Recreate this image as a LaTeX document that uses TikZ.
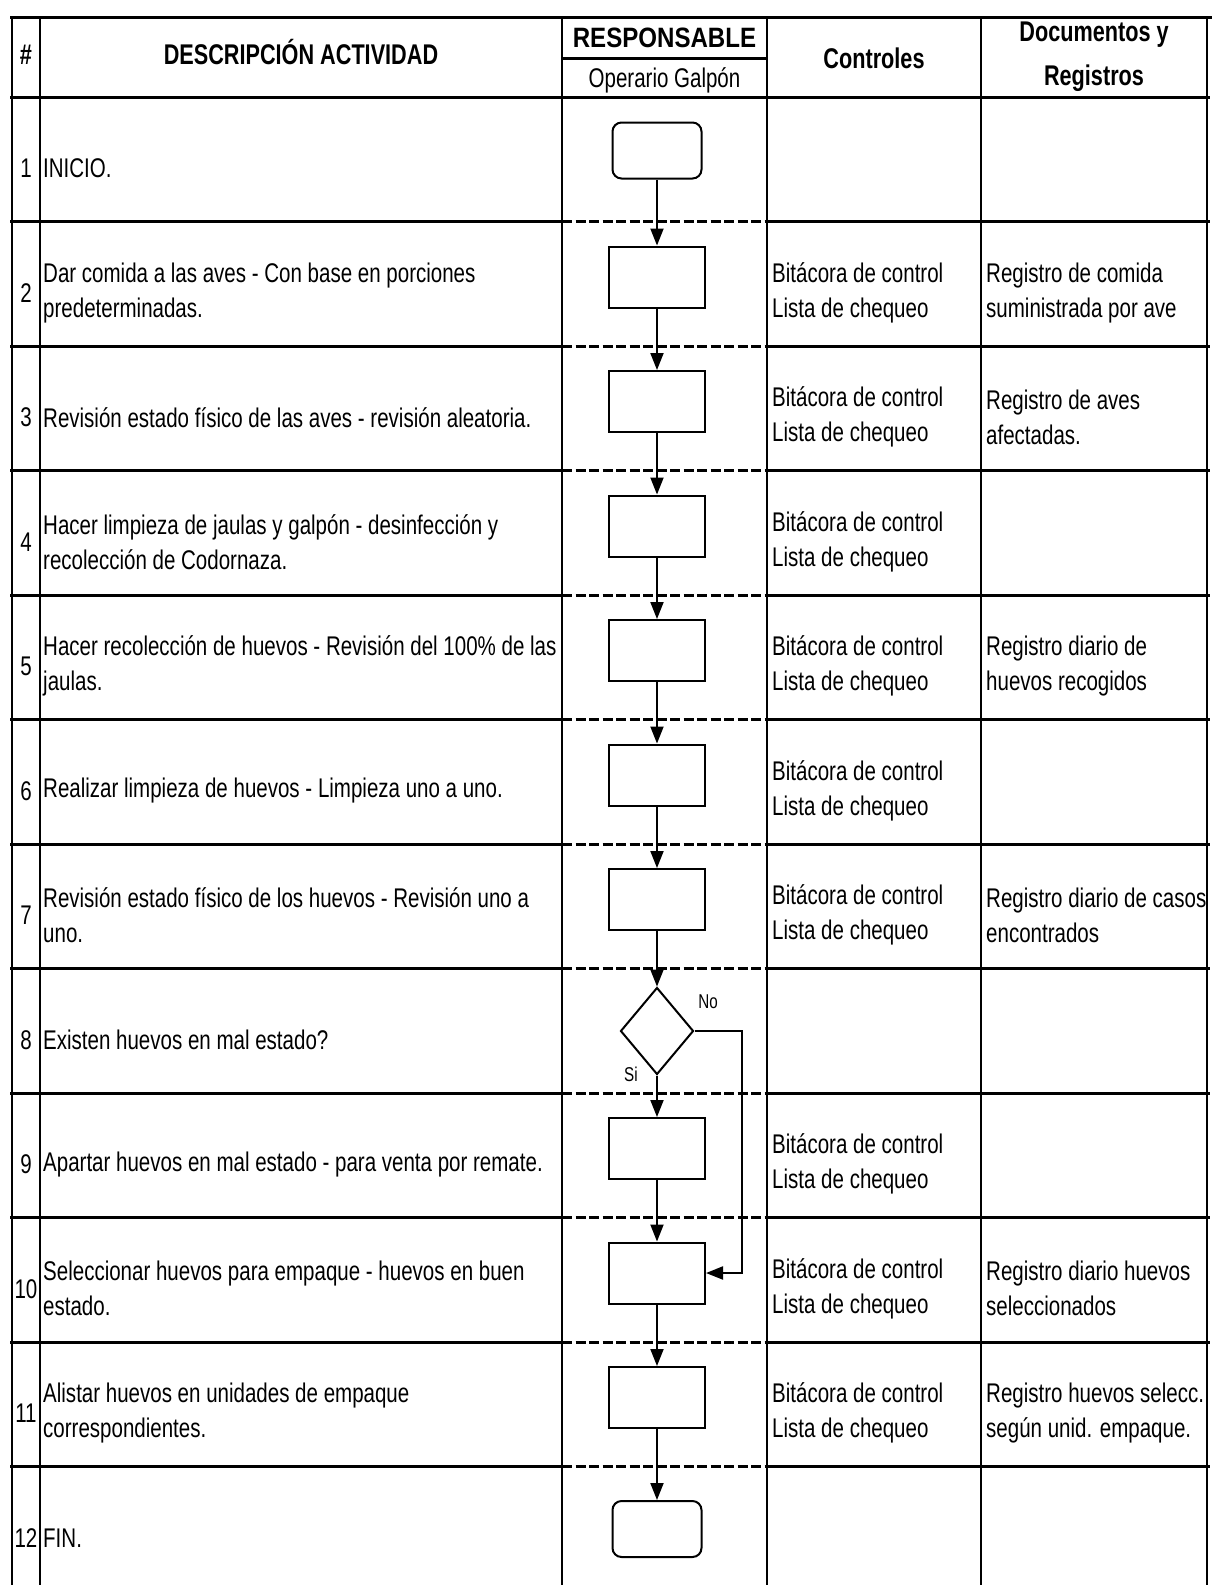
\documentclass[tikz,border=0pt]{standalone}
\usepackage{fontspec}
\setmainfont{Liberation Sans}[FakeStretch=0.76]
\newfontfamily\widebold{Liberation Sans}[FakeStretch=0.86]
\usetikzlibrary{arrows.meta,shapes.geometric}
\begin{document}
\begin{tikzpicture}[x=1pt,y=-1pt,
  hline/.style={line width=3pt},
  vline/.style={line width=2.6pt},
  dline/.style={line width=3pt, dash pattern=on 10pt off 3.5pt},
  proc/.style={draw, line width=2pt, minimum width=96pt, minimum height=61pt, inner sep=0pt},
  term/.style={draw, rounded corners=9pt, line width=2pt, minimum width=89pt, minimum height=56pt, inner sep=0pt},
  dec/.style={draw, diamond, line width=2pt, minimum width=73pt, minimum height=87pt, inner sep=0pt},
  flow/.style={line width=2pt, -{Triangle[length=17pt,width=13pt]}},
  txt/.style={font=\fontsize{27}{35}\selectfont, inner sep=0pt, anchor=west, align=left},
  num/.style={font=\fontsize{27}{35}\selectfont, inner sep=0pt},
  head/.style={font=\fontsize{28.5}{37}\selectfont\bfseries, inner sep=0pt, align=center},
  lbl/.style={font=\fontsize{20}{24}\selectfont, inner sep=0pt}]
\useasboundingbox (0,0) rectangle (1214,1585);
\fill[white] (0,0) rectangle (1214,1585);
% vertical lines
\foreach \x in {12,40,562,767,981,1207} \draw[vline] (\x,17) -- (\x,1585);
% top and header lines
\draw[hline] (10,17) -- (1212,17);
\draw[hline] (562,58) -- (767,58);
\draw[hline] (10,97) -- (1210,97);
% row lines
\foreach \y in {221.5,346,470.5,595,719.5,844,968.5,1093,1217.5,1342,1466.5} {
  \draw[hline] (10,\y) -- (562,\y);
  \draw[dline] (562,\y) -- (767,\y);
  \draw[hline] (767,\y) -- (1210,\y);
}
% header texts
\node[head] (hnum) at (26,55) {\#};
\node[head] (hdesc) at (301,52) {DESCRIPCIÓN ACTIVIDAD};
\node[head, font=\fontsize{28}{37}\selectfont\widebold\bfseries] (hresp) at (664.5,38) {RESPONSABLE};
\node[num] (hop) at (664.5,80) {Operario Galpón};
\node[head] (hctl) at (874,58) {Controles};
\node[head, font=\fontsize{28.5}{44}\selectfont\bfseries] (hdoc) at (1094,57) {Documentos y\\Registros};
% row numbers
\foreach \k/\c in {1/159.25,2/283.75,3/408.25,4/532.75,5/657.25,6/781.75,7/906.25,8/1030.75,9/1155.25,10/1279.75,11/1404.25,12/1528.75}
  \node[num] (n\k) at (26,\c+9) {\k};
% descriptions
\node[txt] (d1) at (43,168.25) {INICIO.};
\node[txt] (d2) at (43,292.75) {Dar comida a las aves - Con base en porciones\\predeterminadas.};
\node[txt] (d3) at (43,417.25) {Revisión estado físico de las aves - revisión aleatoria.};
\node[txt] (d4) at (43,541.75) {Hacer limpieza de jaulas y galpón - desinfección y\\recolección de Codornaza.};
\node[txt] (d5) at (43,666.25) {Hacer recolección de huevos - Revisión del 100\% de las\\jaulas.};
\node[txt] (d6) at (43,790.75) {Realizar limpieza de huevos - Limpieza uno a uno.};
\node[txt] (d7) at (43,915.25) {Revisión estado físico de los huevos - Revisión uno a\\uno.};
\node[txt] (d8) at (43,1039.75) {Existen huevos en mal estado?};
\node[txt] (d9) at (43,1164.25) {Apartar huevos en mal estado - para venta por remate.};
\node[txt] (d10) at (43,1288.75) {Seleccionar huevos para empaque - huevos en buen\\estado.};
\node[txt] (d11) at (43,1413.25) {Alistar huevos en unidades de empaque\\correspondientes.};
\node[txt] (d12) at (43,1537.75) {FIN.};
% controls
\foreach \k/\c in {2/283.75,3/408.25,4/532.75,5/657.25,6/781.75,7/906.25,9/1155.25,10/1279.75,11/1404.25}
  \node[txt] (c\k) at (772,\c+9) {Bitácora de control\\Lista de chequeo};
% documents
\node[txt] (r2) at (986,292.75) {Registro de comida\\suministrada por ave};
\node[txt] (r3) at (986,417.25) {Registro de aves\\afectadas.};
\node[txt] (r5) at (986,666.25) {Registro diario de\\huevos recogidos};
\node[txt] (r7) at (986,915.25) {Registro diario de casos\\encontrados};
\node[txt] (r10) at (986,1288.75) {Registro diario huevos\\seleccionados};
\node[txt] (r11) at (986,1413.25) {Registro huevos selecc.\\según unid. empaque.};
% flow shapes
\node[term] (s1) at (657,150.5) {};
\node[proc] (p2) at (657,277) {};
\node[proc] (p3) at (657,401.5) {};
\node[proc] (p4) at (657,526) {};
\node[proc] (p5) at (657,650.5) {};
\node[proc] (p6) at (657,775) {};
\node[proc] (p7) at (657,899.5) {};
\node[dec] (q8) at (657,1031) {};
\node[proc] (p9) at (657,1148.5) {};
\node[proc] (p10) at (657,1273) {};
\node[proc] (p11) at (657,1397.5) {};
\node[term] (e12) at (657,1529) {};
% connectors
\draw[flow] (s1) -- (p2);
\draw[flow] (p2) -- (p3);
\draw[flow] (p3) -- (p4);
\draw[flow] (p4) -- (p5);
\draw[flow] (p5) -- (p6);
\draw[flow] (p6) -- (p7);
\draw[flow] (p7) -- (q8);
\draw[flow] (q8) -- (p9);
\draw[flow] (p9) -- (p10);
\draw[flow] (p10) -- (p11);
\draw[flow] (p11) -- (e12);
\coordinate (nocorner) at (742,1031);
\draw[flow] (q8.east) -- (nocorner) |- (p10.east);
\node[lbl] (lno) at (708,1002) {No};
\node[lbl] (lsi) at (631,1074) {Si};
\end{tikzpicture}
\end{document}
